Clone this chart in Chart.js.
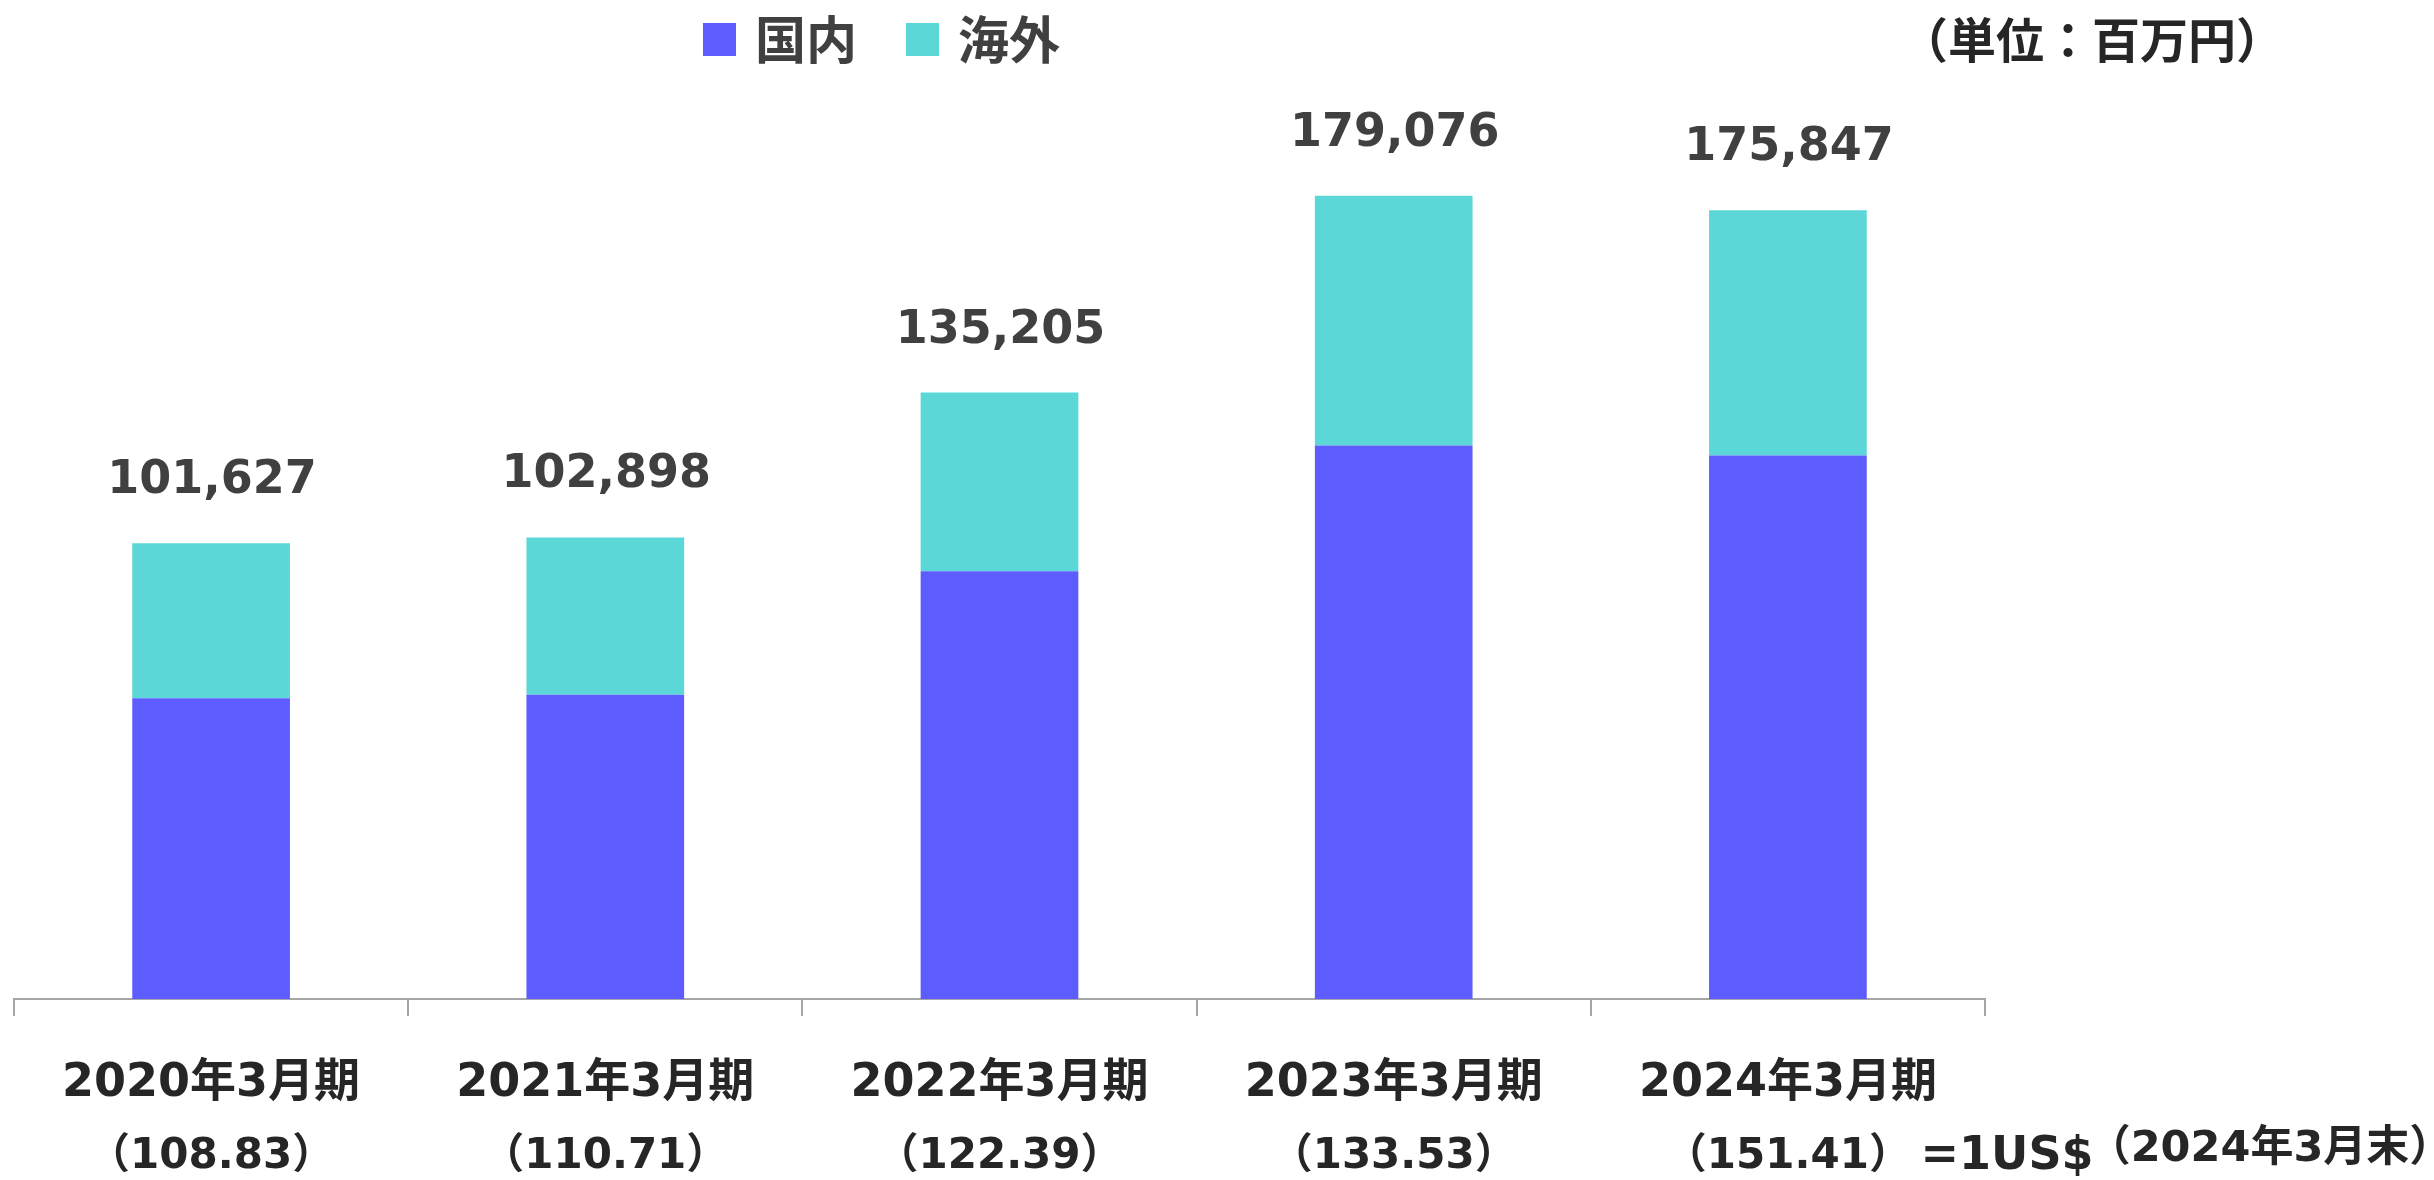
<!DOCTYPE html>
<html lang="ja">
<head>
    <meta charset="UTF-8">
    <title>国内・海外 売上推移</title>
    <script src="https://cdn.jsdelivr.net/npm/chart.js"></script>
    <style>
        html, body { margin: 0; padding: 0; background: #ffffff; }
        #chart-wrap { width: 2434px; height: 1180px; }
    </style>
</head>
<body>
    <div id="chart-wrap">
        <canvas id="salesChart" width="2434" height="1180"></canvas>
    </div>

    <script>
        // data (unit: million yen)
        const categories = ['2020年3月期', '2021年3月期', '2022年3月期', '2023年3月期', '2024年3月期'];
        const fxRates = ['（108.83）', '（110.71）', '（122.39）', '（133.53）', '（151.41）'];
        const domestic = [67060, 67820, 95400, 123400, 121200];
        const overseas = [34567, 35078, 39805, 55676, 54647];
        const totals = [101627, 102898, 135205, 179076, 175847];
        const seriesNames = ['国内', '海外'];

        const NUM_FONT = '"DejaVu Sans", "Noto Sans CJK JP", sans-serif';
        const CJK_FONT = '"Noto Sans CJK JP", "DejaVu Sans", sans-serif';

        // totals above each stack
        const totalLabels = {
            id: 'totalLabels',
            afterDatasetsDraw(chart) {
                const ctx = chart.ctx;
                const meta = chart.getDatasetMeta(chart.data.datasets.length - 1);
                ctx.save();
                ctx.font = 'bold 46px ' + NUM_FONT;
                ctx.fillStyle = '#404040';
                ctx.textAlign = 'center';
                ctx.textBaseline = 'middle';
                meta.data.forEach((bar, i) => {
                    ctx.fillText(totals[i].toLocaleString('en-US'), bar.x + 1, bar.y - 62);
                });
                ctx.restore();
            }
        };

        // legend, unit note, fx rates under the axis
        const extras = {
            id: 'extras',
            afterDraw(chart) {
                const ctx = chart.ctx;
                const xs = chart.scales.x;
                ctx.save();

                // legend
                const ds = chart.data.datasets;
                const legendX = [703, 906];
                ctx.textBaseline = 'middle';
                ctx.textAlign = 'left';
                ctx.font = 'bold 51px ' + CJK_FONT;
                ds.forEach((d, i) => {
                    ctx.fillStyle = d.backgroundColor;
                    ctx.fillRect(legendX[i], 23, 33, 33);
                    ctx.fillStyle = '#404040';
                    ctx.fillText(d.label, legendX[i] + 52, 40);
                });

                // unit
                ctx.fillStyle = '#262626';
                ctx.textAlign = 'center';
                ctx.font = 'bold 48px ' + CJK_FONT;
                ctx.fillText('（単位：百万円）', 2092, 40);

                // exchange rates
                ctx.font = 'bold 42px ' + NUM_FONT;
                fxRates.forEach((r, i) => {
                    ctx.fillText(r, xs.getPixelForValue(i), 1157);
                });
                ctx.font = 'bold 46px ' + NUM_FONT;
                ctx.fillText('=1US$', 2007, 1157);
                ctx.font = 'bold 43px ' + NUM_FONT;
                ctx.fillText('（2024年3月末）', 2270, 1150);

                ctx.restore();
            }
        };

        const ctx = document.getElementById('salesChart').getContext('2d');
        new Chart(ctx, {
            type: 'bar',
            data: {
                labels: categories,
                datasets: [{
                    label: seriesNames[0],
                    data: domestic,
                    backgroundColor: '#5c5cff',
                    categoryPercentage: 1,
                    barPercentage: 0.4
                }, {
                    label: seriesNames[1],
                    data: overseas,
                    backgroundColor: '#5bd7d7',
                    categoryPercentage: 1,
                    barPercentage: 0.4
                }]
            },
            options: {
                responsive: false,
                animation: false,
                layout: {
                    padding: { left: 14, right: 449, top: 102, bottom: 0 }
                },
                plugins: {
                    legend: { display: false },
                    tooltip: { enabled: false }
                },
                scales: {
                    x: {
                        stacked: true,
                        afterFit: (s) => { s.height = 181; },
                        border: { color: '#a6a6a6', width: 2 },
                        grid: {
                            drawOnChartArea: false,
                            drawTicks: true,
                            tickLength: 17,
                            color: '#a6a6a6',
                            lineWidth: 2
                        },
                        ticks: {
                            padding: 40,
                            color: '#262626',
                            maxRotation: 0,
                            font: { family: NUM_FONT, size: 46, weight: 'bold' }
                        }
                    },
                    y: {
                        stacked: true,
                        display: false,
                        min: 0,
                        max: 200000
                    }
                }
            },
            plugins: [totalLabels, extras]
        });
    </script>
</body>
</html>
